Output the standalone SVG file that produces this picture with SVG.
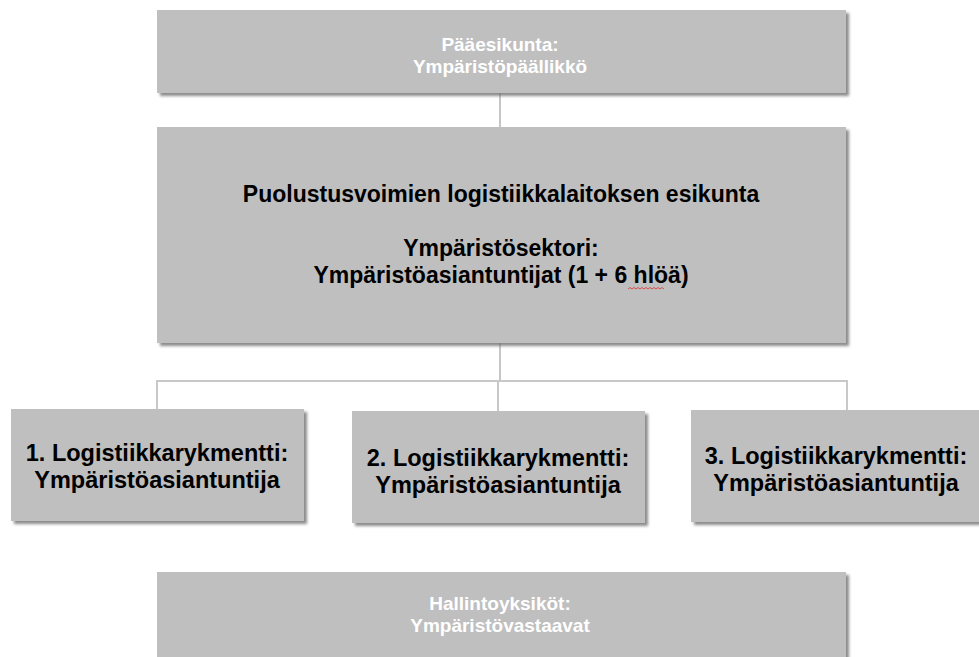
<svg xmlns="http://www.w3.org/2000/svg" width="979" height="657" viewBox="0 0 979 657">
<defs>
<filter id="sh" x="-5%" y="-5%" width="115%" height="120%">
<feDropShadow dx="3" dy="3" stdDeviation="1.5" flood-color="#6e6e6e" flood-opacity="0.8"/>
</filter>
<style>
.box{fill:#bfbfbf;filter:url(#sh);}
.w{fill:#ffffff;font-family:"Liberation Sans",Arial,sans-serif;font-weight:bold;font-size:19px;text-anchor:middle;}
.b{fill:#000000;font-family:"Liberation Sans",Arial,sans-serif;font-weight:bold;font-size:23px;text-anchor:middle;}
.c{fill:#000000;font-family:"Liberation Sans",Arial,sans-serif;font-weight:bold;font-size:23.5px;text-anchor:middle;}
.ln{stroke:#8c8c8c;stroke-width:1;fill:none;}
.ln2{stroke:#c8c8c8;stroke-width:2;fill:none;}
</style>
</defs>
<rect width="979" height="657" fill="#ffffff"/>
<g id="connectors">
<line class="ln" x1="500" y1="93" x2="500" y2="127"/>
<line class="ln" x1="500" y1="343" x2="500" y2="381"/>
<polyline class="ln2" points="157,409 157,381 847,381 847,411"/>
<line class="ln2" x1="498" y1="381" x2="498" y2="411"/>
</g>
<g id="paaesikunta">
<rect class="box" x="157" y="10" width="689" height="83"/>
<text class="w" x="500" y="51">Pääesikunta:</text>
<text class="w" x="500" y="73">Ympäristöpäällikkö</text>
</g>
<g id="esikunta">
<rect class="box" x="157" y="127" width="689" height="216"/>
<text class="b" x="501" y="202">Puolustusvoimien logistiikkalaitoksen esikunta</text>
<text class="b" x="501" y="256">Ympäristösektori:</text>
<text class="b" x="501" y="283">Ympäristöasiantuntijat (1 + 6 hlöä)</text>
<path d="M628,289 l2,-1.5 l2,1.5 l2,-1.5 l2,1.5 l2,-1.5 l2,1.5 l2,-1.5 l2,1.5 l2,-1.5 l2,1.5 l2,-1.5 l2,1.5 l2,-1.5 l2,1.5 l2,-1.5 l2,1.5 l2,-1.5 l2,1.5" stroke="#e03030" stroke-width="0.8" fill="none"/>
</g>
<g id="rykmentti1">
<rect class="box" x="11" y="409" width="293" height="112"/>
<text class="c" x="157" y="461">1. Logistiikkarykmentti:</text>
<text class="c" x="157" y="488">Ympäristöasiantuntija</text>
</g>
<g id="rykmentti2">
<rect class="box" x="352" y="411" width="293" height="112"/>
<text class="c" x="498" y="466">2. Logistiikkarykmentti:</text>
<text class="c" x="498" y="493">Ympäristöasiantuntija</text>
</g>
<g id="rykmentti3">
<rect class="box" x="691" y="410" width="293" height="112"/>
<text class="c" x="836" y="464">3. Logistiikkarykmentti:</text>
<text class="c" x="836" y="491">Ympäristöasiantuntija</text>
</g>
<g id="hallintoyksikot">
<rect class="box" x="157" y="572" width="689" height="95"/>
<text class="w" x="500" y="610">Hallintoyksiköt:</text>
<text class="w" x="500" y="632">Ympäristövastaavat</text>
</g>
</svg>
